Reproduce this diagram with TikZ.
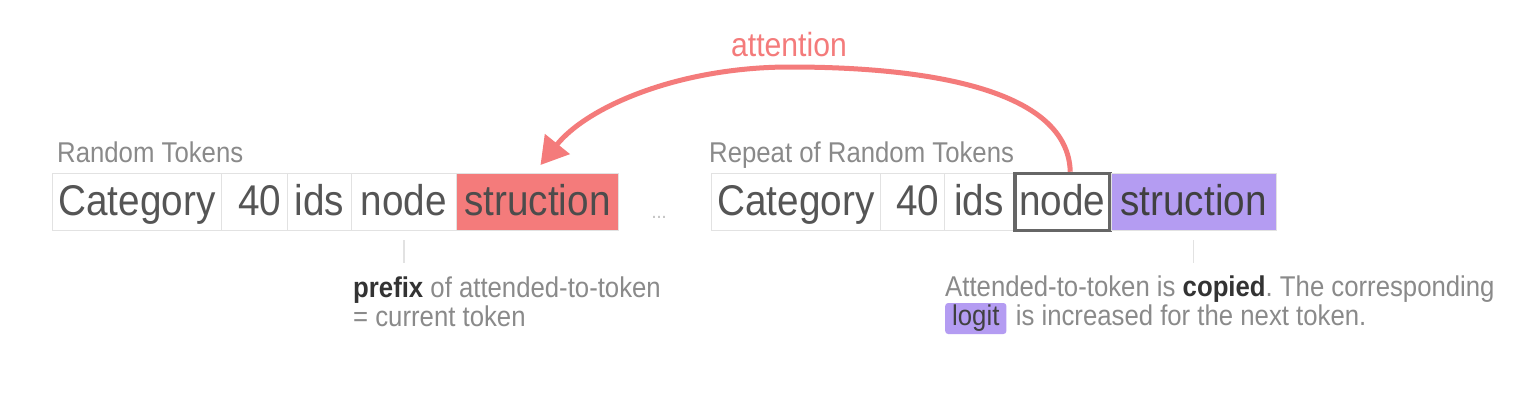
\documentclass[tikz,border=0pt]{standalone}
\usepackage{fontspec}
\setmainfont[FakeStretch=0.9]{Liberation Sans}
\usetikzlibrary{arrows.meta,positioning}
\definecolor{attn}{HTML}{F47B7B}
\definecolor{copyc}{HTML}{B49CF2}
\definecolor{inkc}{HTML}{555555}
\definecolor{grayc}{HTML}{8A8A8A}
\definecolor{boldc}{HTML}{333333}
\definecolor{cellc}{HTML}{E2E2E2}
\definecolor{curc}{HTML}{666666}
\tikzset{tok/.style={draw=cellc,line width=1pt,fill=white,minimum height=57pt,
  inner sep=0pt,text height=33pt,text depth=6pt,text=inkc,font=\fontsize{43}{45}\selectfont},
  lbl/.style={text=grayc,font=\fontsize{28.6}{30}\selectfont,inner sep=0pt},
  tick/.style={draw=cellc,line width=1.2pt},
  attnarrow/.style={draw=attn,line width=5pt,-{Triangle[length=27pt,width=31pt]}}}

\begin{document}
\frenchspacing
\begin{tikzpicture}[x=1pt,y=-1pt]
\fill[white] (0,0) rectangle (1540,418);
\useasboundingbox (0,0) rectangle (1540,418);
% first copy of the random tokens
\node[tok,anchor=north west,minimum width=169pt] (lcat) at (52,173) {Category};
\node[tok,minimum width=66pt,right=-1pt of lcat] (lforty) {\ 40};
\node[tok,minimum width=64pt,right=-1pt of lforty] (lids) {ids};
\node[tok,minimum width=105pt,right=-1pt of lids] (lnode) {node};
\node[tok,minimum width=162pt,right=-1pt of lnode,fill=attn,text=black!70] (lstruc) {struction};
\node[lbl,anchor=base west] (lhead) at (57,162) {Random Tokens};
\node[text=black!25,font=\fontsize{20}{20}\selectfont,inner sep=0pt,anchor=base] (dots) at (659,218) {...};
% repeated tokens
\node[tok,anchor=north west,minimum width=169pt] (rcat) at (711,173) {Category};
\node[tok,minimum width=64pt,right=-1pt of rcat] (rforty) {\ 40};
\node[tok,minimum width=69pt,right=-1pt of rforty] (rids) {ids};
\node[tok,minimum width=95pt,right=-1pt of rids,draw=curc,line width=3.5pt] (rnode) {node};
\node[tok,minimum width=165pt,right=-1pt of rnode,fill=copyc,text=black!75] (rstruc) {struction};
\node[lbl,anchor=base west] (rhead) at (709,162) {Repeat of Random Tokens};
% attention arc
\node[text=attn,font=\fontsize{33.5}{34}\selectfont,inner sep=0pt] (attnlbl) at (789,45) {attention};
\draw[attnarrow] ([xshift=8pt]rnode.north) .. controls (1068,90) and (930,67) .. (790,67)
  .. controls (680,67) and (588,106) .. ([shift={(3pt,8pt)}]lstruc.north);
% notes under the rows
\draw[tick] ([yshift=-9pt]lnode.south) -- ([yshift=-32pt]lnode.south);
\draw[tick] ([yshift=-9pt]rstruc.south) -- ([yshift=-32pt]rstruc.south);
\node[lbl,anchor=base west] (pre1) at (353,297) {\textbf{\color{boldc}prefix} of attended-to-token};
\node[lbl,anchor=base west,yshift=-29pt] (pre2) at (pre1.base west) {= current token};
\node[lbl,anchor=base west] (cop1) at (945,296) {Attended-to-token is \textbf{\color{boldc}copied}. The corresponding};
\node[lbl,anchor=base west,yshift=-29pt,fill=copyc,text=black!75,rounded corners=3pt,
  inner xsep=7pt,text height=19pt,text depth=6pt,inner ysep=3pt] (logit) at (cop1.base west) {logit};
\node[lbl,anchor=base west,xshift=9pt] (cop2) at (logit.base east) {is increased for the next token.};
\end{tikzpicture}
\end{document}
